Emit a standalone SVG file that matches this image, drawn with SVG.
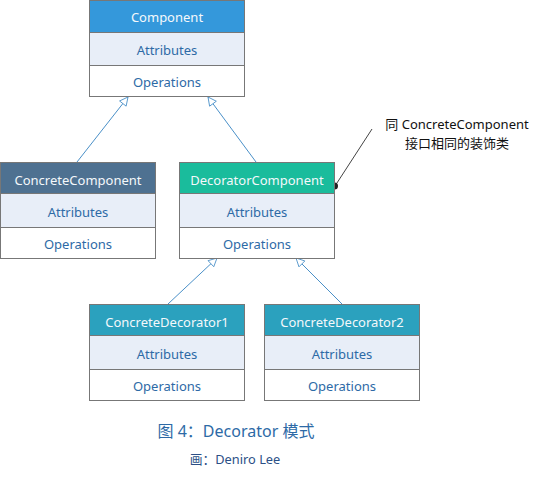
<svg xmlns="http://www.w3.org/2000/svg" width="542" height="498" viewBox="0 0 542 498">
<style>
.hd{font-family:"Noto Sans","Noto Sans CJK SC",sans-serif;font-size:13px;fill:#f4f8fb;text-anchor:middle}
.rw{font-family:"Noto Sans","Noto Sans CJK SC",sans-serif;font-size:13px;fill:#2d6aa6;text-anchor:middle}
.attr{fill:#e8eef8;stroke:#777;stroke-width:1}
.ops{fill:#fff;stroke:#777;stroke-width:1}
.box{fill:none;stroke:#777;stroke-width:1}
.conn{stroke:#4a90c8;stroke-width:1;fill:none}
.note{font-family:"Noto Sans","Noto Sans CJK SC",sans-serif;font-size:13px;fill:#111;text-anchor:middle}
</style>
<defs>
<marker id="tri" viewBox="0 0 12 12" refX="11" refY="6" markerWidth="10" markerHeight="10" orient="auto" markerUnits="userSpaceOnUse">
<path d="M1,1 L11,6 L1,11 Z" fill="#fff" stroke="#4a90c8" stroke-width="1"/>
</marker>
</defs>
<g id="connectors">
<line class="conn" x1="77" y1="162" x2="128" y2="97" marker-end="url(#tri)"/>
<line class="conn" x1="256" y1="162" x2="208" y2="97" marker-end="url(#tri)"/>
<line class="conn" x1="168" y1="304" x2="217" y2="258" marker-end="url(#tri)"/>
<line class="conn" x1="342" y1="304" x2="296" y2="258" marker-end="url(#tri)"/>
<line x1="335" y1="186" x2="372" y2="129" stroke="#444" stroke-width="1"/>
<circle cx="334.5" cy="186" r="3.5" fill="#222"/>
</g>
<g id="Component">
<rect x="89.5" y="0.5" width="155" height="32" fill="#3498db"/>
<rect class="attr" x="89.5" y="32.5" width="155" height="33"/>
<rect class="ops" x="89.5" y="65.5" width="155" height="31"/>
<rect class="box" x="89.5" y="0.5" width="155" height="96"/>
<text class="hd" x="167" y="22">Component</text>
<text class="rw" x="167" y="55">Attributes</text>
<text class="rw" x="167" y="87">Operations</text>
</g>
<g id="ConcreteComponent">
<rect x="0.5" y="162.5" width="155" height="31" fill="#4e7191"/>
<rect class="attr" x="0.5" y="193.5" width="155" height="34"/>
<rect class="ops" x="0.5" y="227.5" width="155" height="31"/>
<rect class="box" x="0.5" y="162.5" width="155" height="96"/>
<text class="hd" x="78" y="185">ConcreteComponent</text>
<text class="rw" x="78" y="217">Attributes</text>
<text class="rw" x="78" y="249">Operations</text>
</g>
<g id="DecoratorComponent">
<rect x="179.5" y="162.5" width="155" height="31" fill="#1abc9c"/>
<rect class="attr" x="179.5" y="193.5" width="155" height="34"/>
<rect class="ops" x="179.5" y="227.5" width="155" height="31"/>
<rect class="box" x="179.5" y="162.5" width="155" height="96"/>
<text class="hd" x="257" y="185">DecoratorComponent</text>
<text class="rw" x="257" y="217">Attributes</text>
<text class="rw" x="257" y="249">Operations</text>
</g>
<g id="ConcreteDecorator1">
<rect x="89.5" y="304.5" width="155" height="31" fill="#2ba1be"/>
<rect class="attr" x="89.5" y="335.5" width="155" height="34"/>
<rect class="ops" x="89.5" y="369.5" width="155" height="31"/>
<rect class="box" x="89.5" y="304.5" width="155" height="96"/>
<text class="hd" x="167" y="327">ConcreteDecorator1</text>
<text class="rw" x="167" y="359">Attributes</text>
<text class="rw" x="167" y="391">Operations</text>
</g>
<g id="ConcreteDecorator2">
<rect x="264.5" y="304.5" width="155" height="31" fill="#2ba1be"/>
<rect class="attr" x="264.5" y="335.5" width="155" height="34"/>
<rect class="ops" x="264.5" y="369.5" width="155" height="31"/>
<rect class="box" x="264.5" y="304.5" width="155" height="96"/>
<text class="hd" x="342" y="327">ConcreteDecorator2</text>
<text class="rw" x="342" y="359">Attributes</text>
<text class="rw" x="342" y="391">Operations</text>
</g>
<g id="note">
<text class="note" x="457" y="129">同 ConcreteComponent</text>
<text class="note" x="457" y="148">接口相同的装饰类</text>
</g>
<g id="caption">
<text x="236" y="437" font-family="Noto Sans, Noto Sans CJK SC, sans-serif" font-size="16" fill="#2d6aa6" text-anchor="middle">图 4：Decorator 模式</text>
<text x="235" y="464" font-family="Noto Sans, Noto Sans CJK SC, sans-serif" font-size="12.8" fill="#2b4f86" text-anchor="middle">画：Deniro Lee</text>
</g>
</svg>
